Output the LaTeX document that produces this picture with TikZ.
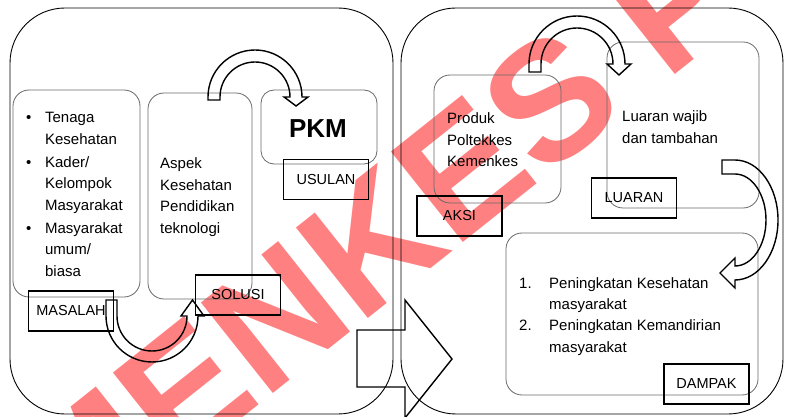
\documentclass[tikz,border=0pt]{standalone}
\usepackage{fontspec}
\setmainfont{Liberation Sans}
\definecolor{wmred}{RGB}{255,128,128}
\definecolor{boxgray}{RGB}{105,105,105}
\tikzset{
  panel/.style={draw=boxgray,line width=0.8pt,rounded corners=16pt,inner sep=0pt},
  tag/.style={draw,line width=1.6pt,minimum width=85pt,minimum height=40pt,inner sep=0pt,
    font=\fontsize{14.5}{17}\selectfont},
  blockarrow/.style={draw,line width=1.4pt,line join=miter},
  txt/.style={anchor=base west,inner sep=0pt,font=\fontsize{15}{21.5}\selectfont}
}

\begin{document}
\begin{tikzpicture}[x=1pt,y=-1pt]
  \useasboundingbox (0,0) rectangle (788,417);
  \clip (0,0) rectangle (788,417);

  \node[rotate=38.5,text=wmred,inner sep=0pt,
    font=\fontsize{168}{168}\selectfont\bfseries] (watermark) at (283.5,312) {KEMENKES P};

  \begin{scope}[every node/.style={draw,line width=0.9pt,rounded corners=55pt,inner sep=0pt}]
    \node[minimum width=383pt,minimum height=406pt] (kiri)  at (201.5,211) {};
    \node[minimum width=382pt,minimum height=406pt] (kanan) at (592,211) {};
  \end{scope}

  \begin{scope}[every node/.style={panel}]
    \node[minimum width=127pt,minimum height=207pt] (masalahbox) at (76.5,193.5) {};
    \node[minimum width=104pt,minimum height=206pt] (solusibox)  at (200,196) {};
    \node[minimum width=116pt,minimum height=74pt,rounded corners=13pt] (usulanbox) at (319,127) {};
    \node[minimum width=127pt,minimum height=128pt] (aksibox)    at (497.5,139) {};
    \node[minimum width=152pt,minimum height=166pt] (luaranbox)  at (683,125) {};
    \node[minimum width=252pt,minimum height=162pt] (dampakbox)  at (632,314) {};
  \end{scope}

  \begin{scope}[every node/.style={tag}]
    \node (masalah) at (71,311)     {MASALAH};
    \node (solusi)  at (238,295)    {SOLUSI};
    \node (usulan)  at (326,179.5)  {USULAN};
    \node (aksi)    at (459.5,216)  {AKSI};
    \node (luaran)  at (634,198)    {LUARAN};
    \node (dampak)  at (706.5,384)  {DAMPAK};
  \end{scope}

  \begin{scope}[every node/.style={txt}]
    \node (t1) at (26,123) {\begin{tabular}[t]{@{}l@{\hspace{13.7pt}}l@{}}
        • & Tenaga\\ & Kesehatan\\[1.5pt]
        • & Kader/\\ & Kelompok\\ & Masyarakat\\[1.5pt]
        • & Masyarakat\\ & umum/\\ & biasa
      \end{tabular}};
    \node (t2) at (160,169) {\begin{tabular}[t]{@{}l@{}}
        Aspek\\ Kesehatan\\ Pendidikan\\ teknologi
      \end{tabular}};
    \node (t3) at (447,124) {\begin{tabular}[t]{@{}l@{}}
        Produk\\ Poltekkes\\ Kemenkes
      \end{tabular}};
    \node (t4) at (622,122) {\begin{tabular}[t]{@{}l@{}}
        Luaran wajib\\ dan tambahan
      \end{tabular}};
    \node (t5) at (519,288) {\begin{tabular}[t]{@{}l@{\hspace{17.5pt}}l@{}}
        1. & Peningkatan Kesehatan\\ & masyarakat\\
        2. & Peningkatan Kemandirian\\ & masyarakat
      \end{tabular}};
  \end{scope}
  \node[anchor=base,inner sep=0pt,font=\fontsize{26}{30}\selectfont\bfseries] (pkm) at (318,138) {PKM};

  \begin{scope}[every path/.style={blockarrow}]
    \path (208,100) -- (208,97) arc[start angle=180,end angle=360,radius=47]
      -- (308,97) -- (296,106) -- (284,97) -- (290,97)
      arc[start angle=360,end angle=180,radius=35] -- (220,100) -- cycle;
    \path (106,300) -- (106,316) arc[start angle=180,end angle=0,radius=46]
      -- (204,316) -- (192.5,300) -- (181,316) -- (187,316)
      arc[start angle=0,end angle=180,radius=35] -- (117,300) -- cycle;
    \path (529,72) -- (529,64) arc[start angle=180,end angle=360,radius=48]
      -- (631,64) -- (619,75) -- (607,64) -- (613,64)
      arc[start angle=360,end angle=180,radius=36] -- (541,72) -- cycle;
    \path (722,160) -- (735,160) arc[start angle=270,end angle=450,x radius=43,y radius=60]
      -- (735,288) -- (720,273) -- (735,258) -- (735,266)
      arc[start angle=90,end angle=-90,x radius=31,y radius=46] -- (722,174) -- cycle;
    \path (357,330) -- (405,330) -- (405,300) -- (452,359) -- (405,418)
      -- (405,387) -- (357,387) -- cycle;
  \end{scope}
\end{tikzpicture}
\end{document}
